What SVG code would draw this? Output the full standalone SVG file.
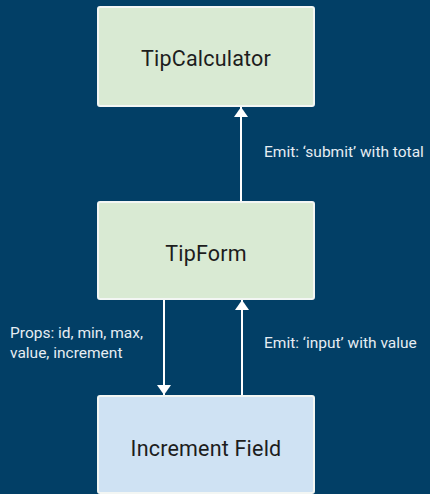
<svg xmlns="http://www.w3.org/2000/svg" width="430" height="494" viewBox="0 0 430 494">
<defs>
<marker id="ah" viewBox="0 0 10 14" refX="10" refY="7" markerWidth="10" markerHeight="14" markerUnits="userSpaceOnUse" orient="auto">
<path d="M0,0 L10,7 L0,14 z" fill="#ffffff"/>
</marker>
<style>
.box{stroke:#f3f6f3;stroke-width:2}
.green{fill:#d9ead3}
.blue{fill:#cfe2f3}
.title{font-family:Roboto,"Liberation Sans",sans-serif;font-size:21.5px;letter-spacing:0.2px;fill:#1d1d1d;text-anchor:middle}
.lbl{font-family:Roboto,"Liberation Sans",sans-serif;font-size:15.5px;fill:#e6edf3}
.edge{stroke:#ffffff;stroke-width:2;fill:none;marker-end:url(#ah)}
</style>
</defs>
<rect width="430" height="494" fill="#023f66"/>
<g id="connectors">
<line class="edge" x1="241" y1="202" x2="241" y2="107"/>
<line class="edge" x1="164" y1="299" x2="164" y2="395"/>
<line class="edge" x1="242" y1="396" x2="242" y2="300"/>
<text class="lbl" x="264" y="157">Emit: ‘submit’ with total</text>
<text class="lbl" x="10" y="338">Props: id, min, max,</text>
<text class="lbl" x="10" y="358">value, increment</text>
<text class="lbl" x="264" y="348">Emit: ‘input’ with value</text>
</g>
<g id="tipcalculator">
<rect class="box green" x="98" y="7" width="216" height="99" rx="2"/>
<text class="title" x="206" y="66">TipCalculator</text>
</g>
<g id="tipform">
<rect class="box green" x="98" y="202" width="216" height="97" rx="2"/>
<text class="title" x="206" y="261">TipForm</text>
</g>
<g id="incrementfield">
<rect class="box blue" x="98" y="396" width="216" height="97" rx="2"/>
<text class="title" x="206" y="456">Increment Field</text>
</g>
</svg>
